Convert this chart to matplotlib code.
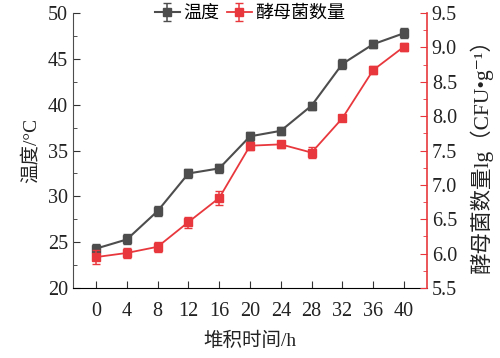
import matplotlib
matplotlib.use("Agg")
import matplotlib.pyplot as plt

plt.rcParams['font.family'] = ['Liberation Serif', 'Noto Sans CJK SC', 'DejaVu Serif']

hours = [0, 4, 8, 12, 16, 20, 24, 28, 32, 36, 40]
temp = [24.3, 25.3, 28.4, 32.5, 33.05, 36.55, 37.15, 39.9, 44.45, 46.6, 47.8]
temp_err = [0.45, 0.55, 0.5, 0.5, 0.45, 0.5, 0.45, 0.45, 0.5, 0.45, 0.55]
yeast = [5.95, 6.01, 6.1, 6.46, 6.81, 7.57, 7.59, 7.47, 7.97, 8.67, 9.01]
yeast_err = [0.1, 0.07, 0.07, 0.08, 0.1, 0.06, 0.05, 0.08, 0.03, 0.06, 0.06]

grey = '#4d4d4d'
red = '#e8383d'

fig = plt.figure(figsize=(5.0, 3.58), dpi=100)
ax = fig.add_axes([0.146, 0.1955, 0.708, 0.768])
ax2 = ax.twinx()

l1 = ax.errorbar(hours, temp, yerr=temp_err, color=grey, marker='s', markersize=5.5,
                 lw=1.5, capsize=3, elinewidth=1.1, label='温度')
l2 = ax2.errorbar(hours, yeast, yerr=yeast_err, color=red, marker='s', markersize=5.5,
                  lw=1.3, capsize=3, elinewidth=1.1, label='酵母菌数量')

ax.set_xlim(-3.0, 43.0)
ax.set_ylim(20, 50)
ax2.set_ylim(5.5, 9.5)
ax.set_xticks(hours)
ax.set_yticks(range(20, 51, 5))
ax.set_yticks([22.5 + 5 * i for i in range(6)], minor=True)
ax2.set_yticks([5.5 + 0.5 * i for i in range(9)])
ax2.set_yticklabels(['%.1f' % (5.5 + 0.5 * i) for i in range(9)])
ax2.set_yticks([5.75 + 0.5 * i for i in range(8)], minor=True)

for a in (ax, ax2):
    a.spines['top'].set_visible(False)
ax.spines['left'].set_color(grey)
ax.spines['bottom'].set_color('black')
ax.spines['right'].set_visible(False)
ax2.spines['left'].set_visible(False)
ax2.spines['bottom'].set_visible(False)
ax2.spines['right'].set_color(red)
ax2.spines['right'].set_linewidth(1.2)

ax.tick_params(axis='both', which='major', direction='in', length=5, labelsize=14.5,
               colors='#333333', labelcolor='#222222')
ax.tick_params(axis='y', which='minor', direction='in', length=3, color='#333333')
ax.tick_params(axis='x', pad=10)
ax2.tick_params(axis='y', which='major', direction='in', length=5, labelsize=14.5,
                color=red, labelcolor='#222222')
ax2.tick_params(axis='y', which='minor', direction='in', length=3, color=red)

ax.set_xlabel('堆积时间/h', fontsize=14, color='#222222', labelpad=8)
ax.set_ylabel('温度/°C', fontsize=14, color='#222222', labelpad=6)
ax2.set_ylabel('酵母菌数量lg（CFU•g⁻¹）', fontsize=15.5, color='#222222', labelpad=9)

leg = ax.legend([l1, l2], ['温度', '酵母菌数量'], loc='upper center',
                bbox_to_anchor=(0.5, 1.055), ncol=2, frameon=False, fontsize=13,
                handlelength=1.4, handletextpad=0.2, columnspacing=0.4, borderaxespad=0)

fig.savefig('out.png', dpi=100)
